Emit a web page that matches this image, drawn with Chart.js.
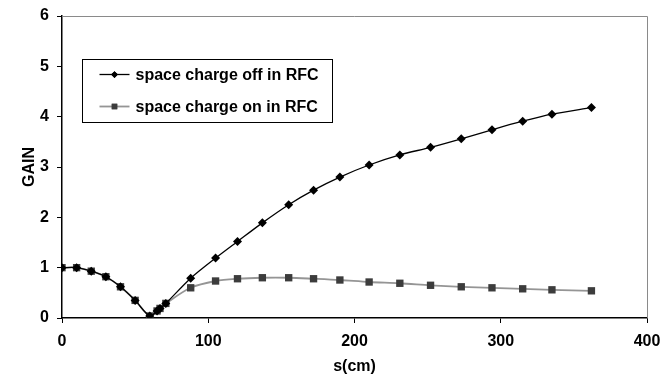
<!DOCTYPE html>
<html><head><meta charset="utf-8">
<script src="https://cdn.jsdelivr.net/npm/chart.js@4/dist/chart.umd.min.js"></script>
<style>html,body{margin:0;padding:0;background:#fff}#wrap{width:663px;height:379px}</style>
</head><body><div id="wrap"><canvas id="c" width="663" height="379"></canvas></div>
<script>
const sValues = [0,10,20,30,40,50,60,65,67,71,88,105,120,137,155,172,190,210,231,252,273,294,315,335,362];
const gainOff = [1.0,1.0,0.93,0.82,0.62,0.35,0.04,0.14,0.19,0.29,0.79,1.19,1.52,1.89,2.25,2.54,2.80,3.04,3.24,3.39,3.56,3.74,3.91,4.05,4.18];
const gainOn  = [1.0,1.0,0.93,0.82,0.62,0.35,0.04,0.14,0.19,0.29,0.60,0.735,0.78,0.80,0.80,0.78,0.755,0.715,0.69,0.65,0.62,0.60,0.58,0.56,0.54];
const seriesNames = ['space charge off in RFC','space charge on in RFC'];
const xTicks = [0,100,200,300,400];
const yTicks = [0,1,2,3,4,5,6];

const FONT = 'Liberation Sans, Arial, sans-serif';

const frame = {
  id:'frame',
  beforeDatasetsDraw(chart){
    const a = chart.chartArea, ctx = chart.ctx;
    ctx.save();
    ctx.strokeStyle = '#8a8a8a'; ctx.lineWidth = 1;
    ctx.beginPath();
    ctx.moveTo(a.left, a.top+0.5); ctx.lineTo(a.right+0.5, a.top+0.5); ctx.lineTo(a.right+0.5, a.bottom);
    ctx.stroke();
    ctx.restore();
  },
  afterDatasetsDraw(chart){
    const a = chart.chartArea, ctx = chart.ctx;
    const bx = a.left+20.5, by = a.top+43.5, bw = 250, bh = 63;
    ctx.save();
    ctx.fillStyle = '#fff'; ctx.fillRect(bx,by,bw,bh);
    ctx.strokeStyle = '#000'; ctx.lineWidth = 1; ctx.strokeRect(bx,by,bw,bh);
    chart.data.datasets.forEach((ds,i)=>{
      const y = by + 15 + i*32;
      const x0 = bx + 17, x1 = bx + 47;
      ctx.strokeStyle = ds.borderColor; ctx.lineWidth = ds.borderWidth;
      ctx.beginPath(); ctx.moveTo(x0,y); ctx.lineTo(x1,y); ctx.stroke();
      ctx.fillStyle = ds.pointBackgroundColor;
      ctx.beginPath();
      Chart.helpers.drawPoint(ctx,{pointStyle:ds.pointStyle,radius:ds.pointRadius*0.75,borderWidth:0},(x0+x1)/2,y);
      ctx.fill();
      ctx.fillStyle = '#000'; ctx.font = 'bold 16px '+FONT; ctx.textBaseline='middle'; ctx.textAlign='left';
      ctx.fillText(ds.label, bx+53, y+1);
    });
    ctx.restore();
  }
};

new Chart(document.getElementById('c'), {
  type:'line',
  data:{
    datasets:[
      {label:seriesNames[0], data:sValues.map((s,i)=>({x:s,y:gainOff[i]})), borderColor:'#000', borderWidth:1.3,
       pointStyle:'rectRot', pointRadius:4.5, pointBackgroundColor:'#000', pointBorderColor:'#000', pointBorderWidth:0, tension:0.3},
      {label:seriesNames[1], data:sValues.map((s,i)=>({x:s,y:gainOn[i]})), borderColor:'#959595', borderWidth:1.8,
       pointStyle:'rect', pointRadius:5.2, pointBackgroundColor:'#3c3c3c', pointBorderColor:'#3c3c3c', pointBorderWidth:0, tension:0.3}
    ]
  },
  options:{
    responsive:false, animation:false, devicePixelRatio:1,
    layout:{padding:{top:16,right:16,left:0,bottom:0}},
    plugins:{legend:{display:false}, tooltip:{enabled:false}},
    scales:{
      x:{type:'linear', min:0, max:400,
        afterBuildTicks(s){ s.ticks = xTicks.map(v=>({value:v})); },
        afterFit(s){ s.height = 61; s.paddingRight = 0; s.paddingLeft = 0; },
        grid:{drawOnChartArea:false, drawTicks:true, tickLength:5, color:'#000'},
        border:{color:'#000', width:1.5},
        ticks:{color:'#000', font:{family:FONT, size:16, weight:'bold'}, padding:9, maxRotation:0},
        title:{display:true, text:'s(cm)', color:'#000', font:{family:FONT, size:16, weight:'bold'}, padding:{top:2,bottom:3}}
      },
      y:{min:0, max:6,
        afterBuildTicks(s){ s.ticks = yTicks.map(v=>({value:v})); },
        afterFit(s){ s.width = 62; s.paddingTop = 0; s.paddingBottom = 0; },
        grid:{drawOnChartArea:false, drawTicks:true, tickLength:5, color:'#000'},
        border:{color:'#000', width:1.5},
        ticks:{color:'#000', font:{family:FONT, size:16, weight:'bold'}, padding:8},
        title:{display:true, text:'GAIN', color:'#000', font:{family:FONT, size:16, weight:'bold'}, padding:{top:20,bottom:0}}
      }
    }
  },
  plugins:[frame]
});
</script></body></html>
